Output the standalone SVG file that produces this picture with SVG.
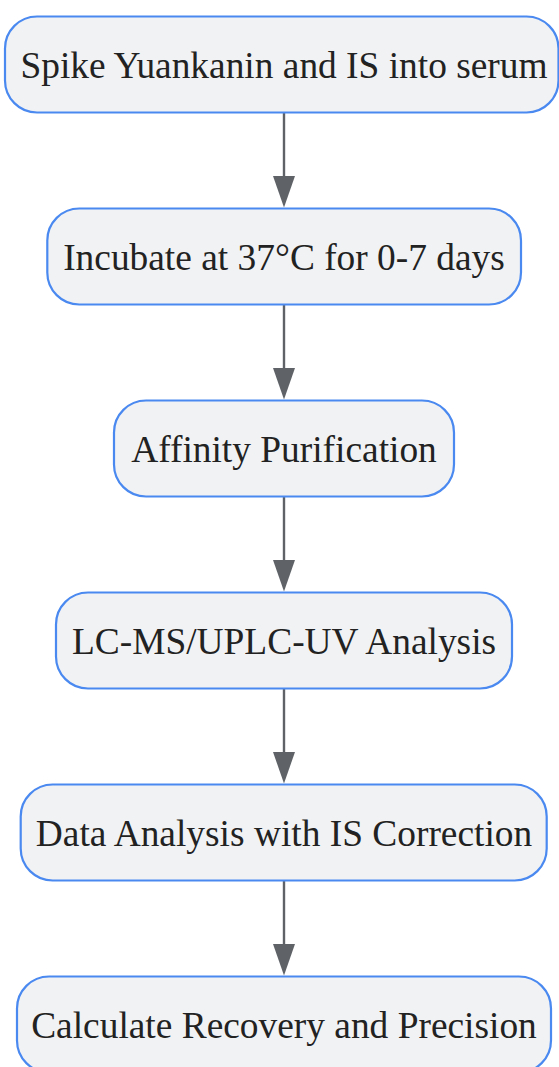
<svg xmlns="http://www.w3.org/2000/svg" width="559" height="1067" viewBox="0 0 559 1067">
<style>
.node rect{fill:#f1f2f4;stroke:#4a89f0;stroke-width:2.2}
.node text{font-family:"Liberation Serif","Times New Roman",serif;font-size:37.4px;fill:#222222;text-anchor:middle}
.edge line{stroke:#5f6368;stroke-width:2.4}
.edge polygon{fill:#5f6368}
</style>
<rect width="559" height="1067" fill="#ffffff"/>
<g id="connectors" class="edge">
<line x1="284" y1="112.5" x2="284" y2="180"/><polygon points="273,176 295,176 284,207.5"/>
<line x1="284" y1="304.5" x2="284" y2="372"/><polygon points="273,368 295,368 284,399.5"/>
<line x1="284" y1="496.5" x2="284" y2="564"/><polygon points="273,560 295,560 284,591.5"/>
<line x1="284" y1="688.5" x2="284" y2="756"/><polygon points="273,752 295,752 284,783.5"/>
<line x1="284" y1="880.5" x2="284" y2="948"/><polygon points="273,944 295,944 284,975.5"/>
</g>
<g id="n1" class="node"><rect x="5" y="16.5" width="553.5" height="96" rx="32"/><text x="284" y="78.3">Spike Yuankanin and IS into serum</text></g>
<g id="n2" class="node"><rect x="47.3" y="208.5" width="473.7" height="96" rx="32"/><text x="284" y="270.3">Incubate at 37°C for 0-7 days</text></g>
<g id="n3" class="node"><rect x="114" y="400.5" width="340" height="96" rx="32"/><text x="284" y="462.3">Affinity Purification</text></g>
<g id="n4" class="node"><rect x="56" y="592.5" width="456" height="96" rx="32"/><text x="284" y="654.3">LC-MS/UPLC-UV Analysis</text></g>
<g id="n5" class="node"><rect x="20.7" y="784.5" width="526" height="96" rx="32"/><text x="284" y="846.3">Data Analysis with IS Correction</text></g>
<g id="n6" class="node"><rect x="17" y="976.5" width="534" height="96" rx="32"/><text x="284" y="1038.3">Calculate Recovery and Precision</text></g>
</svg>
